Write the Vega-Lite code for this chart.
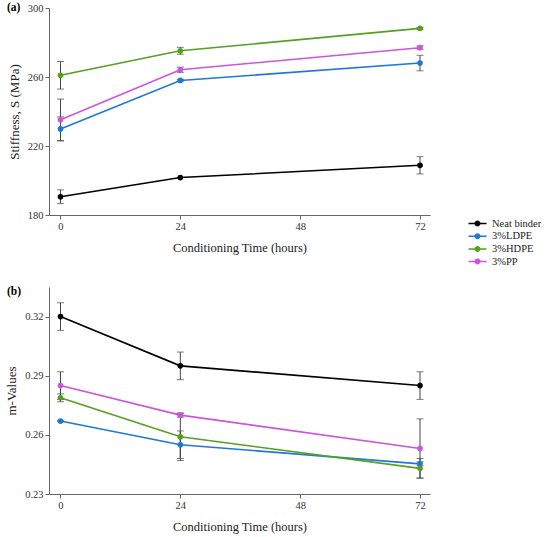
{
  "$schema": "https://vega.github.io/schema/vega-lite/v6.json",
  "padding": {"left": 5, "top": 1, "right": 5, "bottom": 5},
  "data": {
    "values": [
      {"time": 0, "material": "Neat binder", "S": 190.6, "S_err": 4, "m": 0.320, "m_err": 0.007},
      {"time": 24, "material": "Neat binder", "S": 201.7, "S_err": 0, "m": 0.295, "m_err": 0.007},
      {"time": 72, "material": "Neat binder", "S": 208.8, "S_err": 5, "m": 0.285, "m_err": 0.007},
      {"time": 0, "material": "3%LDPE", "S": 229.9, "S_err": 7, "m": 0.267, "m_err": 0},
      {"time": 24, "material": "3%LDPE", "S": 258.0, "S_err": 0.5, "m": 0.255, "m_err": 0.007},
      {"time": 72, "material": "3%LDPE", "S": 268.1, "S_err": 4.5, "m": 0.2453, "m_err": 0.001},
      {"time": 0, "material": "3%HDPE", "S": 261.0, "S_err": 8, "m": 0.2788, "m_err": 0.002},
      {"time": 24, "material": "3%HDPE", "S": 275.2, "S_err": 2, "m": 0.259, "m_err": 0.012},
      {"time": 72, "material": "3%HDPE", "S": 288.2, "S_err": 0.5, "m": 0.243, "m_err": 0.005},
      {"time": 0, "material": "3%PP", "S": 235.2, "S_err": 12, "m": 0.285, "m_err": 0.007},
      {"time": 24, "material": "3%PP", "S": 264.2, "S_err": 1.5, "m": 0.270, "m_err": 0.001},
      {"time": 72, "material": "3%PP", "S": 277.0, "S_err": 1, "m": 0.2531, "m_err": 0.015}
    ]
  },
  "spacing": 31,
  "vconcat": [
    {
      "width": 381,
      "height": 207,
      "title": {"text": "(a)", "anchor": "start", "frame": "group", "dx": -42, "dy": 14},
      "encoding": {
        "x": {
          "field": "time", "type": "quantitative",
          "scale": {"domain": [-2.3, 74], "nice": false, "zero": false},
          "axis": {"values": [0, 24, 48, 72], "title": "Conditioning Time (hours)"}
        },
        "y": {
          "field": "S", "type": "quantitative",
          "scale": {"domain": [180, 300], "nice": false, "zero": false},
          "axis": {"values": [180, 220, 260, 300], "title": "Stiffness, S (MPa)"}
        }
      },
      "layer": [
        {
          "mark": {"type": "line", "strokeWidth": 1.6},
          "encoding": {"color": {"field": "material", "type": "nominal", "scale": {"domain": ["Neat binder", "3%LDPE", "3%HDPE", "3%PP"]}}}
        },
        {
          "mark": {"type": "errorbar", "ticks": {"size": 7, "color": "#444"}, "color": "#444", "thickness": 1},
          "encoding": {"yError": {"field": "S_err"}}
        },
        {
          "mark": {"type": "point", "filled": true, "size": 32, "opacity": 1},
          "encoding": {"color": {"field": "material", "type": "nominal", "scale": {"domain": ["Neat binder", "3%LDPE", "3%HDPE", "3%PP"]}}}
        }
      ]
    },
    {
      "width": 381,
      "height": 207,
      "title": {"text": "(b)", "anchor": "start", "frame": "group", "dx": -42, "dy": 14},
      "encoding": {
        "x": {
          "field": "time", "type": "quantitative",
          "scale": {"domain": [-2.3, 74], "nice": false, "zero": false},
          "axis": {"values": [0, 24, 48, 72], "title": "Conditioning Time (hours)"}
        },
        "y": {
          "field": "m", "type": "quantitative",
          "scale": {"domain": [0.23, 0.335], "nice": false, "zero": false},
          "axis": {"values": [0.23, 0.26, 0.29, 0.32], "format": ".2f", "title": "m-Values"}
        }
      },
      "layer": [
        {
          "mark": {"type": "line", "strokeWidth": 1.6},
          "encoding": {"color": {"field": "material", "type": "nominal", "scale": {"domain": ["Neat binder", "3%LDPE", "3%HDPE", "3%PP"]}}}
        },
        {
          "mark": {"type": "errorbar", "ticks": {"size": 7, "color": "#444"}, "color": "#444", "thickness": 1},
          "encoding": {"yError": {"field": "m_err"}}
        },
        {
          "mark": {"type": "point", "filled": true, "size": 32, "opacity": 1},
          "encoding": {"color": {"field": "material", "type": "nominal", "scale": {"domain": ["Neat binder", "3%LDPE", "3%HDPE", "3%PP"]}}}
        }
      ]
    }
  ],
  "resolve": {"scale": {"color": "shared"}},
  "config": {
    "font": "Liberation Serif",
    "view": {"stroke": null},
    "range": {"category": ["#000000", "#1e78d8", "#55a01e", "#cc55dd"]},
    "title": {"fontSize": 11.5, "fontWeight": "bold", "font": "Liberation Serif", "baseline": "top", "offset": 0},
    "axis": {
      "grid": false,
      "domainColor": "#666",
      "tickColor": "#666",
      "tickSize": 4,
      "labelFont": "Liberation Serif",
      "labelFontSize": 10.5,
      "labelColor": "#333",
      "titleFont": "Liberation Serif",
      "titleFontSize": 12.5,
      "titleFontWeight": "normal",
      "titleColor": "#222"
    },
    "axisY": {"titlePadding": 6, "titleFontSize": 13},
    "axisX": {"titlePadding": 10},
    "legend": {
      "orient": "none",
      "legendX": 422,
      "legendY": 209,
      "title": null,
      "labelFont": "Liberation Serif",
      "labelFontSize": 10.5,
      "labelColor": "#222",
      "symbolType": "M-1.385,-0.115L1.385,-0.115L1.385,0.115L-1.385,0.115Z M0.46,0 A0.46,0.46 0 1,1 -0.46,0 A0.46,0.46 0 1,1 0.46,0 Z",
      "symbolSize": 169,
      "symbolStrokeWidth": 0,
      "rowPadding": 0.7,
      "labelOffset": 8
    }
  }
}
